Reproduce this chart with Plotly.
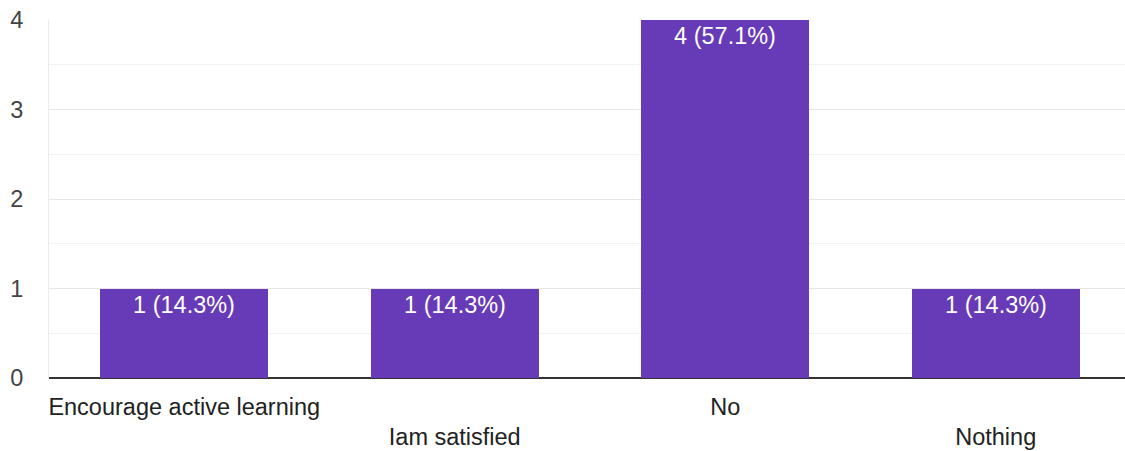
import plotly.graph_objects as go

categories = ["Encourage active learning", "Iam satisfied", "No", "Nothing"]
counts = [1, 1, 4, 1]
percents = [14.3, 14.3, 57.1, 14.3]
y_ticks = [0, 1, 2, 3, 4]

positions = list(range(len(categories)))
labels = [f"{c} ({p}%)" for c, p in zip(counts, percents)]
ticktext = [c if i % 2 == 0 else "<br>" + c for i, c in enumerate(categories)]

FONT = "Liberation Sans, Arial, sans-serif"

fig = go.Figure(
    go.Bar(
        x=positions,
        y=counts,
        width=0.62,
        marker=dict(color="#673AB7", line=dict(width=0)),
        text=labels,
        textposition="inside",
        insidetextanchor="end",
        textangle=0,
        textfont=dict(family=FONT, size=23.5, color="#ffffff"),
        cliponaxis=False,
        hoverinfo="skip",
    )
)

fig.update_layout(
    width=1125,
    height=451,
    margin=dict(l=49, r=0, t=20, b=73),
    paper_bgcolor="white",
    plot_bgcolor="white",
    showlegend=False,
    bargap=0,
)

fig.update_xaxes(
    range=[-0.5, 3.478],
    tickmode="array",
    tickvals=positions,
    ticktext=ticktext,
    tickfont=dict(family=FONT, size=23.5, color="#222222"),
    showgrid=False,
    zeroline=False,
    showline=False,
    ticks="",
    ticklabelstandoff=12,
    automargin=False,
    fixedrange=True,
)

fig.update_yaxes(
    range=[0, 4],
    tickmode="array",
    tickvals=y_ticks,
    ticktext=[str(v) for v in y_ticks],
    tickfont=dict(family=FONT, size=23.5, color="#444444"),
    showgrid=True,
    gridcolor="#e6e6e6",
    gridwidth=1,
    minor=dict(dtick=0.5, tick0=0, showgrid=True, gridcolor="#f2f2f2", gridwidth=1),
    zeroline=True,
    zerolinecolor="#333333",
    zerolinewidth=2,
    showline=True,
    linecolor="#ebebeb",
    linewidth=1,
    ticks="",
    ticklabelstandoff=20,
    automargin=False,
    fixedrange=True,
)

fig.write_html(
    "out.html",
    config={"displayModeBar": False},
    post_script="document.body.style.margin='0';document.body.style.overflow='hidden';",
)
